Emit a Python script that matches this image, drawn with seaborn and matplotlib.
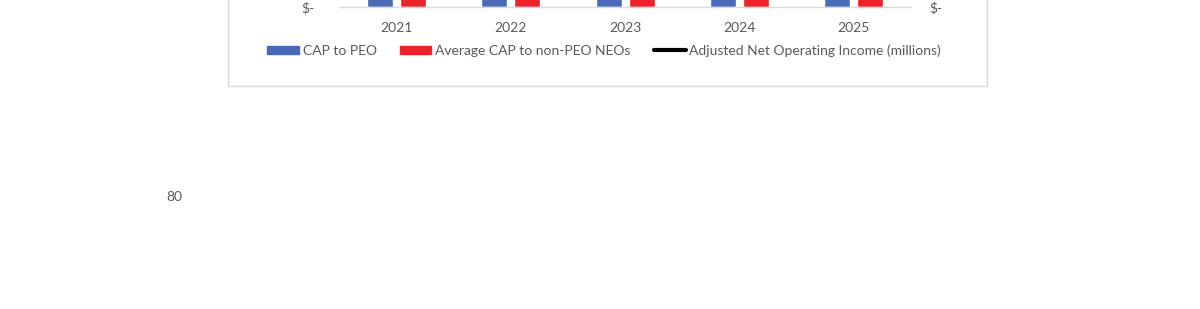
import matplotlib
matplotlib.use("Agg")
import matplotlib.pyplot as plt
import matplotlib.patches as mpatches
from matplotlib.lines import Line2D
from matplotlib.ticker import FuncFormatter
import seaborn as sns
import pandas as pd

# ---- data (values above the visible crop are estimates) ----
years = ["2021", "2022", "2023", "2024", "2025"]
cap_peo = [3.2, 1.8, 2.5, 2.9, 3.4]
cap_non_peo = [1.1, 0.7, 0.9, 1.0, 1.2]
adj_noi = [45, 52, 60, 68, 75]
series_names = ["CAP to PEO", "Average CAP to non-PEO NEOs",
                "Adjusted Net Operating Income (millions)"]
stray_label = "80"

blue = "#4A69B7"
red = "#ED2228"
grey_txt = "#595959"
fs = 10

sns.set_theme(style="white")
plt.rcParams["font.family"] = ["Lato", "DejaVu Sans"]

df = pd.DataFrame({
    "year": years * 2,
    "value": cap_peo + cap_non_peo,
    "series": [series_names[0]] * len(years) + [series_names[1]] * len(years),
})

fig = plt.figure(figsize=(12, 3.09), dpi=100)
fig.patch.set_facecolor("white")

# chart frame (extends above visible area)
frame = mpatches.Rectangle((228 / 1200, 1 - 86 / 309), (987 - 228) / 1200, 1.5,
                           transform=fig.transFigure, fill=False,
                           edgecolor="#D9D9D9", linewidth=1.0, zorder=0)
fig.patches.append(frame)

money = FuncFormatter(lambda v, p: "$-" if v == 0 else f"${v:,.0f}")

ax = fig.add_axes([339.3 / 1200, 1 - 7 / 309, (911 - 339.3) / 1200, 2.5])
sns.barplot(data=df, x="year", y="value", hue="series",
            palette=[blue, red], width=0.578, gap=0.21,
            ax=ax, legend=False, saturation=1)
ax.set_xlim(-0.5, 4.5)
ax.set_ylim(0, 4)
ax.set_xlabel("")
ax.set_ylabel("")
ax.set_yticks([0, 1, 2, 3, 4])
ax.yaxis.set_major_formatter(money)
for s in ["top", "left", "right"]:
    ax.spines[s].set_visible(False)
ax.spines["bottom"].set_color("#D9D9D9")
ax.spines["bottom"].set_linewidth(1.0)
ax.tick_params(axis="x", length=0, pad=11, labelsize=fs, labelcolor=grey_txt)
ax.tick_params(axis="y", length=0, pad=18, labelsize=fs, labelcolor=grey_txt)
ax.set_facecolor("none")

ax2 = ax.twinx()
sns.lineplot(x=list(range(len(years))), y=adj_noi, ax=ax2, color="black", linewidth=2.5)
ax2.set_ylim(0, 80)
ax2.set_yticks([0, 20, 40, 60, 80])
ax2.yaxis.set_major_formatter(money)
for s in ["top", "left", "right", "bottom"]:
    ax2.spines[s].set_visible(False)
ax2.tick_params(axis="y", length=0, pad=13, labelsize=fs, labelcolor=grey_txt)
ax2.set_ylabel("")

handles = [mpatches.Patch(color=blue), mpatches.Patch(color=red),
           Line2D([0], [0], color="black", linewidth=3)]
leg = fig.legend(handles, series_names, loc="center",
                 bbox_to_anchor=(604 / 1200, 1 - 50.5 / 309), ncol=3, frameon=False,
                 fontsize=fs, handlelength=2.3, handleheight=0.58,
                 handletextpad=0.28, columnspacing=1.65, labelcolor=grey_txt)

fig.text(174 / 1200, 1 - 197 / 309, stray_label, ha="center", va="center",
         fontsize=fs, color=grey_txt)

fig.savefig("out.png", dpi=100, facecolor="white")
